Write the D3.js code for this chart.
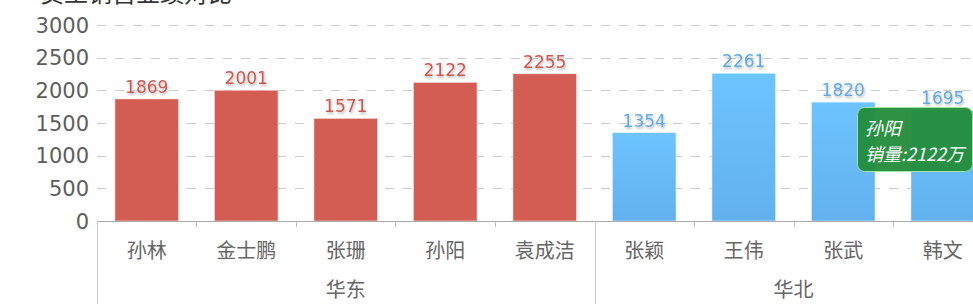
<!DOCTYPE html>
<html>
<head>
<meta charset="utf-8">
<script src="https://cdn.jsdelivr.net/npm/d3@7"></script>
<style>
  body { margin: 0; background: #fff; }
  svg { display: block; font-family: "DejaVu Sans", "Noto Sans CJK SC", sans-serif; }
</style>
</head>
<body>
<svg id="chart" width="973" height="304"></svg>
<script>
const names = ["孙林", "金士鹏", "张珊", "孙阳", "袁成洁", "张颖", "王伟", "张武", "韩文"];
const regions = ["华东", "华东", "华东", "华东", "华东", "华北", "华北", "华北", "华北"];
const sales = [1869, 2001, 1571, 2122, 2255, 1354, 2261, 1820, 1695];
const yTicks = [0, 500, 1000, 1500, 2000, 2500, 3000];
const regionColors = { "华东": "#d35c53", "华北": "#65b5f3" };
const labelColors = { "华东": "#d4554d", "华北": "#5eaaea" };

const svg = d3.select("#chart");
const plotLeft = 97, plotBottom = 221, plotTop = 25;
const band = 99.5;

const x = d3.scaleBand()
    .domain(names)
    .range([plotLeft, plotLeft + band * names.length])
    .paddingInner(0.36)
    .paddingOuter(0.18);

const y = d3.scaleLinear()
    .domain([0, 3000])
    .range([plotBottom, plotTop]);

const defs = svg.append("defs");
const grad = defs.append("linearGradient")
    .attr("id", "blueGrad")
    .attr("x1", 0).attr("y1", 0).attr("x2", 0).attr("y2", 1);
grad.append("stop").attr("offset", "0%").attr("stop-color", "#6cc4ff");
grad.append("stop").attr("offset", "100%").attr("stop-color", "#62b1ee");

const shadow = defs.append("filter").attr("id", "txtShadow")
    .attr("x", "-20%").attr("y", "-20%").attr("width", "140%").attr("height", "160%");
shadow.append("feDropShadow")
    .attr("dx", 1).attr("dy", 2).attr("stdDeviation", 0.8)
    .attr("flood-color", "#000").attr("flood-opacity", 0.25);

// title, mostly cut off at the top (as in the source picture)
svg.append("text")
    .attr("x", 40).attr("y", 2)
    .attr("font-size", 24)
    .attr("font-family", "Noto Sans CJK SC")
    .attr("fill", "#333")
    .text("员工销售业绩对比");

// grid lines
svg.append("g")
    .selectAll("line")
    .data(yTicks.filter(d => d > 0))
    .join("line")
    .attr("x1", plotLeft).attr("x2", 973)
    .attr("y1", d => Math.round(y(d)) + 0.5)
    .attr("y2", d => Math.round(y(d)) + 0.5)
    .attr("stroke", "#cccccc")
    .attr("stroke-dasharray", "9,9");

// y labels
svg.append("g")
    .selectAll("text")
    .data(yTicks)
    .join("text")
    .attr("x", 89)
    .attr("y", d => y(d))
    .attr("dy", "0.36em")
    .attr("text-anchor", "end")
    .attr("font-size", 21)
    .attr("fill", "#5e5e5e")
    .text(d => d);

// bars
svg.append("g")
    .selectAll("rect")
    .data(names)
    .join("rect")
    .attr("x", d => x(d))
    .attr("width", x.bandwidth())
    .attr("y", (d, i) => y(sales[i]))
    .attr("height", (d, i) => plotBottom - y(sales[i]))
    .attr("fill", (d, i) => regions[i] === "华北" ? "url(#blueGrad)" : regionColors[regions[i]])
    .attr("stroke", "rgba(255,255,255,0.5)")
    .attr("stroke-width", 1);

// value labels
svg.append("g")
    .selectAll("text")
    .data(names)
    .join("text")
    .attr("x", d => x(d) + x.bandwidth() / 2)
    .attr("y", (d, i) => y(sales[i]) - 6)
    .attr("text-anchor", "middle")
    .attr("font-size", 17)
    .attr("fill", (d, i) => labelColors[regions[i]])
    .attr("filter", "url(#txtShadow)")
    .text((d, i) => sales[i]);

// x axis line
svg.append("line")
    .attr("x1", plotLeft).attr("x2", 973)
    .attr("y1", plotBottom + 0.5).attr("y2", plotBottom + 0.5)
    .attr("stroke", "#aaa");

// small ticks between categories
svg.append("g")
    .selectAll("line")
    .data(names.slice(1).filter((d, i) => regions[i + 1] === regions[i]))
    .join("line")
    .attr("x1", d => Math.round(x(d) - x.step() * x.paddingInner() / 2) + 0.5)
    .attr("x2", d => Math.round(x(d) - x.step() * x.paddingInner() / 2) + 0.5)
    .attr("y1", plotBottom).attr("y2", plotBottom + 6)
    .attr("stroke", "#bbb");

// category labels
svg.append("g")
    .selectAll("text")
    .data(names)
    .join("text")
    .attr("x", d => x(d) + x.bandwidth() / 2)
    .attr("y", 251)
    .attr("dy", "0.35em")
    .attr("text-anchor", "middle")
    .attr("font-size", 20)
    .attr("font-family", "Noto Sans CJK SC")
    .attr("fill", "#666")
    .text(d => d);

// region groups
const groups = Array.from(d3.group(names.map((n, i) => ({ n, r: regions[i] })), d => d.r),
    ([r, items]) => ({ r, first: items[0].n, last: items[items.length - 1].n }));

svg.append("g")
    .selectAll("line")
    .data(groups)
    .join("line")
    .attr("x1", d => Math.round(x(d.first) - x.step() * x.paddingOuter()) + 0.5)
    .attr("x2", d => Math.round(x(d.first) - x.step() * x.paddingOuter()) + 0.5)
    .attr("y1", plotBottom).attr("y2", 304)
    .attr("stroke", "#ccc");

svg.append("g")
    .selectAll("text")
    .data(groups)
    .join("text")
    .attr("x", d => (x(d.first) + x(d.last) + x.bandwidth()) / 2)
    .attr("y", 290)
    .attr("dy", "0.35em")
    .attr("text-anchor", "middle")
    .attr("font-size", 20)
    .attr("font-family", "Noto Sans CJK SC")
    .attr("fill", "#666")
    .text(d => d.r);

// tooltip for 孙阳
const tipIdx = names.indexOf("孙阳");
const tip = svg.append("g").attr("transform", "translate(857,107)");
tip.append("rect")
    .attr("x", 0.5).attr("y", 0.5)
    .attr("width", 115).attr("height", 64)
    .attr("rx", 7)
    .attr("fill", "rgb(34,140,58)")
    .attr("fill-opacity", 0.95)
    .attr("stroke", "#9ee6a6");
tip.append("text")
    .attr("x", 8).attr("y", 28)
    .attr("font-size", 18)
    .attr("font-style", "italic")
    .attr("font-family", "Noto Sans CJK SC")
    .attr("fill", "#fff")
    .text(names[tipIdx]);
tip.append("text")
    .attr("x", 8).attr("y", 54)
    .attr("font-size", 18)
    .attr("font-style", "italic")
    .attr("font-family", "Noto Sans CJK SC")
    .attr("fill", "#fff")
    .text("销量:" + sales[tipIdx] + "万");
</script>
</body>
</html>
